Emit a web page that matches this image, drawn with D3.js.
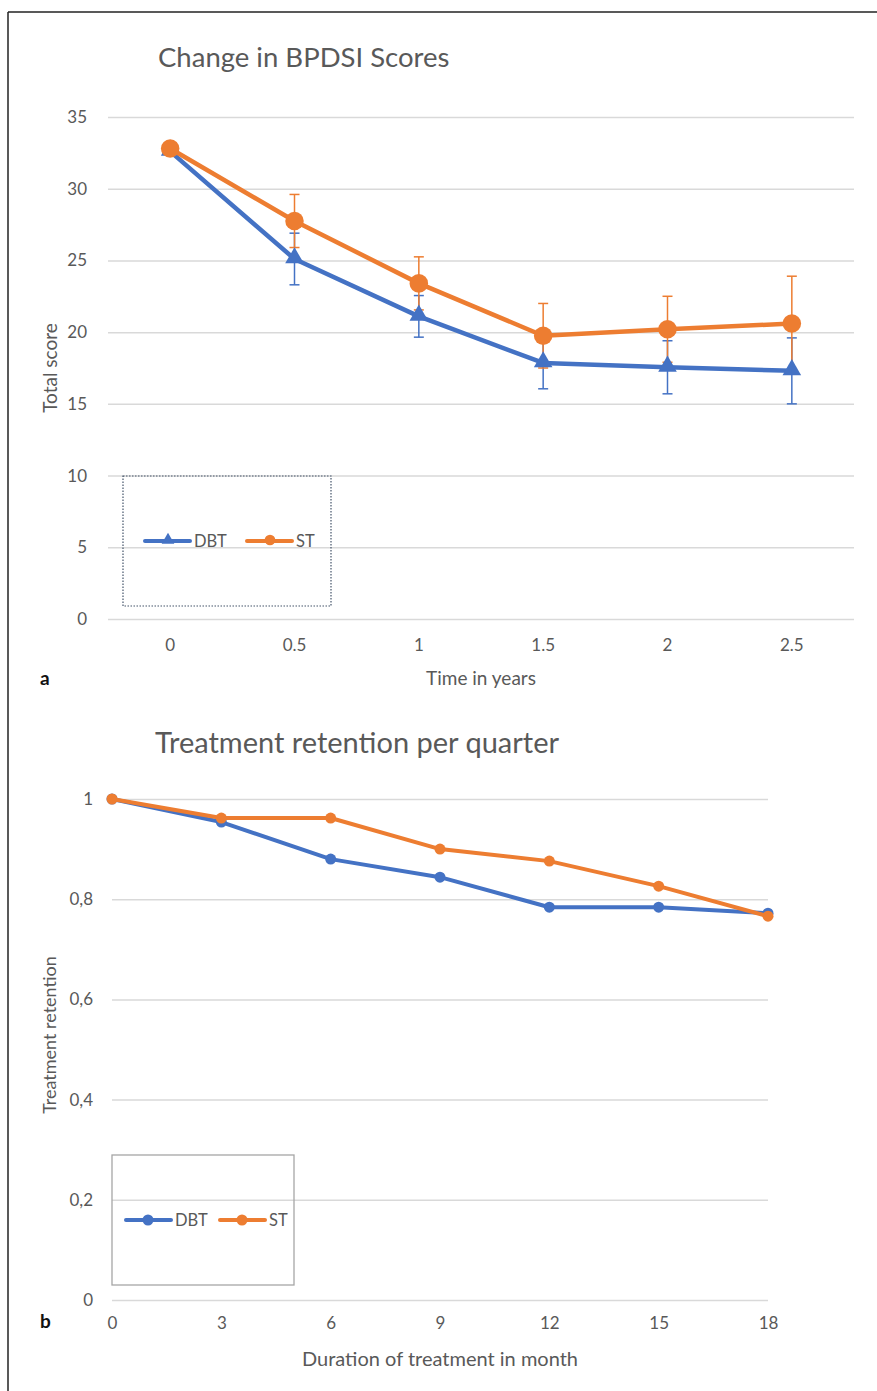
<!DOCTYPE html>
<html>
<head>
<meta charset="utf-8">
<script src="https://cdn.jsdelivr.net/npm/d3@7"></script>
<style>
  body { margin: 0; background: #fff; }
  svg { display: block; }
  text { font-family: Lato, "Open Sans", sans-serif; fill: #595959; }
</style>
</head>
<body>
<svg width="877" height="1391"></svg>
<script>
// ---- chart a data
var yearsA = ['0', '0.5', '1', '1.5', '2', '2.5'];
var dbtScore = [32.6, 25.1, 21.1, 17.85, 17.55, 17.3];
var dbtErr = [0, 1.8, 1.45, 1.8, 1.85, 2.3];
var stScore = [32.8, 27.75, 23.4, 19.75, 20.2, 20.6];
var stErr = [0, 1.85, 1.85, 2.25, 2.3, 3.3];
var yTicksA = [0, 5, 10, 15, 20, 25, 30, 35];

// ---- chart b data
var monthsB = [0, 3, 6, 9, 12, 15, 18];
var dbtRet = [1, 0.954, 0.880, 0.844, 0.784, 0.784, 0.772];
var stRet = [1, 0.962, 0.962, 0.900, 0.876, 0.826, 0.766];
var yTicksB = [0, 0.2, 0.4, 0.6, 0.8, 1];

var blue = '#4472C4', orange = '#ED7D31', grid = '#d9d9d9';

var svg = d3.select('svg');

// outer frame (top + left only)
svg.append('line').attr('x1', 8).attr('x2', 877).attr('y1', 12).attr('y2', 12)
    .attr('stroke', '#222').attr('stroke-width', 1.5);
svg.append('line').attr('x1', 8).attr('x2', 8).attr('y1', 12).attr('y2', 1391)
    .attr('stroke', '#222').attr('stroke-width', 1.5);

function styleAxis(g) {
    g.select('.domain').remove();
    g.selectAll('.tick line').attr('stroke', grid).attr('stroke-width', 1.5);
    g.selectAll('.tick text').style('font-size', '17px').attr('fill', '#595959');
}

// =================== chart a
(function () {
    var left = 108, right = 854, top = 117, bottom = 619;
    var x = d3.scaleBand().domain(yearsA).range([left, right]);
    var y = d3.scaleLinear().domain([0, 35]).range([bottom, top]);
    var cx = d => x(d) + x.bandwidth() / 2;

    svg.append('g').attr('transform', 'translate(' + left + ',0)')
        .call(d3.axisLeft(y).tickValues(yTicksA).tickSize(-(right - left)).tickPadding(21))
        .call(styleAxis);

    svg.append('g').attr('transform', 'translate(0,' + bottom + ')')
        .call(d3.axisBottom(x).tickSize(0).tickPadding(20))
        .call(styleAxis);

    svg.append('text').attr('x', 158).attr('y', 67).text('Change in BPDSI Scores')
        .style('font-size', '27.5px');
    svg.append('text').attr('transform', 'translate(57,368) rotate(-90)')
        .attr('text-anchor', 'middle').style('font-size', '19px').text('Total score');
    svg.append('text').attr('x', 481).attr('y', 685)
        .attr('text-anchor', 'middle').style('font-size', '19px').text('Time in years');
    svg.append('text').attr('x', 40).attr('y', 685).style('font-size', '19px')
        .style('font-weight', 'bold').style('fill', '#111').text('a');

    var series = [
        { vals: dbtScore, err: dbtErr, color: blue, mark: 'tri' },
        { vals: stScore, err: stErr, color: orange, mark: 'dot' }
    ];
    var line = d3.line().x((d, i) => cx(yearsA[i])).y(d => y(d));

    // error bars
    series.forEach(s => {
        var g = svg.append('g');
        s.vals.forEach((v, i) => {
            if (!s.err[i]) return;
            var px = cx(yearsA[i]);
            var t = y(v + s.err[i]), b = y(v - s.err[i]);
            g.append('line').attr('x1', px).attr('x2', px).attr('y1', t).attr('y2', b)
                .attr('stroke', s.color).attr('stroke-width', 1.5);
            [t, b].forEach(yy => g.append('line').attr('x1', px - 5).attr('x2', px + 5)
                .attr('y1', yy).attr('y2', yy).attr('stroke', s.color).attr('stroke-width', 1.5));
        });
    });

    series.forEach(s => {
        svg.append('path').datum(s.vals).attr('d', line).attr('fill', 'none')
            .attr('stroke', s.color).attr('stroke-width', 4.5).attr('stroke-linejoin', 'round');
        var sym = s.mark === 'tri' ? d3.symbol(d3.symbolTriangle, 150) : d3.symbol(d3.symbolCircle, 270);
        svg.selectAll(null).data(s.vals).enter().append('path')
            .attr('d', sym)
            .attr('transform', (d, i) => 'translate(' + cx(yearsA[i]) + ',' + (y(d) + (s.mark === 'tri' ? -1 : 0)) + ')')
            .attr('fill', s.color);
    });

    // legend
    svg.append('rect').attr('x', 123).attr('y', 476).attr('width', 208).attr('height', 130)
        .attr('fill', 'none').attr('stroke', '#44546A').attr('stroke-width', 1.2)
        .attr('stroke-dasharray', '1.5,1.5');
    var leg = [
        { name: 'DBT', color: blue, x: 145, sym: d3.symbol(d3.symbolTriangle, 70) },
        { name: 'ST', color: orange, x: 247, sym: d3.symbol(d3.symbolCircle, 90) }
    ];
    leg.forEach(l => {
        svg.append('line').attr('x1', l.x).attr('x2', l.x + 45).attr('y1', 541).attr('y2', 541)
            .attr('stroke', l.color).attr('stroke-width', 4).attr('stroke-linecap', 'round');
        svg.append('path').attr('d', l.sym).attr('transform', 'translate(' + (l.x + 23) + ',540)')
            .attr('fill', l.color);
        svg.append('text').attr('x', l.x + 49).attr('y', 547).style('font-size', '16.5px').text(l.name);
    });
})();

// =================== chart b
(function () {
    var left = 112, right = 768, top = 799, bottom = 1300;
    var x = d3.scaleLinear().domain([0, 18]).range([left, right]);
    var y = d3.scaleLinear().domain([0, 1]).range([bottom, top]);
    var fmt = d => d3.format('~g')(d).replace('.', ',');

    svg.append('g').attr('transform', 'translate(' + left + ',0)')
        .call(d3.axisLeft(y).tickValues(yTicksB).tickFormat(fmt).tickSize(-(right - left)).tickPadding(19))
        .call(styleAxis);

    svg.append('g').attr('transform', 'translate(0,' + bottom + ')')
        .call(d3.axisBottom(x).tickValues(monthsB).tickSize(0).tickPadding(17))
        .call(styleAxis);

    svg.append('text').attr('x', 155).attr('y', 753).text('Treatment retention per quarter')
        .style('font-size', '29px');
    svg.append('text').attr('transform', 'translate(56,1035) rotate(-90)')
        .attr('text-anchor', 'middle').style('font-size', '18px').text('Treatment retention');
    svg.append('text').attr('x', 440).attr('y', 1366)
        .attr('text-anchor', 'middle').style('font-size', '20px').text('Duration of treatment in month');
    svg.append('text').attr('x', 40).attr('y', 1328).style('font-size', '19px')
        .style('font-weight', 'bold').style('fill', '#111').text('b');

    var line = d3.line().x((d, i) => x(monthsB[i])).y(d => y(d));
    [{ vals: dbtRet, color: blue }, { vals: stRet, color: orange }].forEach(s => {
        svg.append('path').datum(s.vals).attr('d', line).attr('fill', 'none')
            .attr('stroke', s.color).attr('stroke-width', 4).attr('stroke-linejoin', 'round');
        svg.selectAll(null).data(s.vals).enter().append('circle')
            .attr('cx', (d, i) => x(monthsB[i])).attr('cy', d => y(d)).attr('r', 5.5)
            .attr('fill', s.color);
    });

    // legend
    svg.append('rect').attr('x', 112).attr('y', 1155).attr('width', 182).attr('height', 130)
        .attr('fill', 'none').attr('stroke', '#a6a6a6').attr('stroke-width', 1.3);
    [{ name: 'DBT', color: blue, x: 126 }, { name: 'ST', color: orange, x: 220 }].forEach(l => {
        svg.append('line').attr('x1', l.x).attr('x2', l.x + 45).attr('y1', 1220).attr('y2', 1220)
            .attr('stroke', l.color).attr('stroke-width', 4).attr('stroke-linecap', 'round');
        svg.append('circle').attr('cx', l.x + 22).attr('cy', 1220).attr('r', 5.5).attr('fill', l.color);
        svg.append('text').attr('x', l.x + 49).attr('y', 1226).style('font-size', '16.5px').text(l.name);
    });
})();
</script>
</body>
</html>
